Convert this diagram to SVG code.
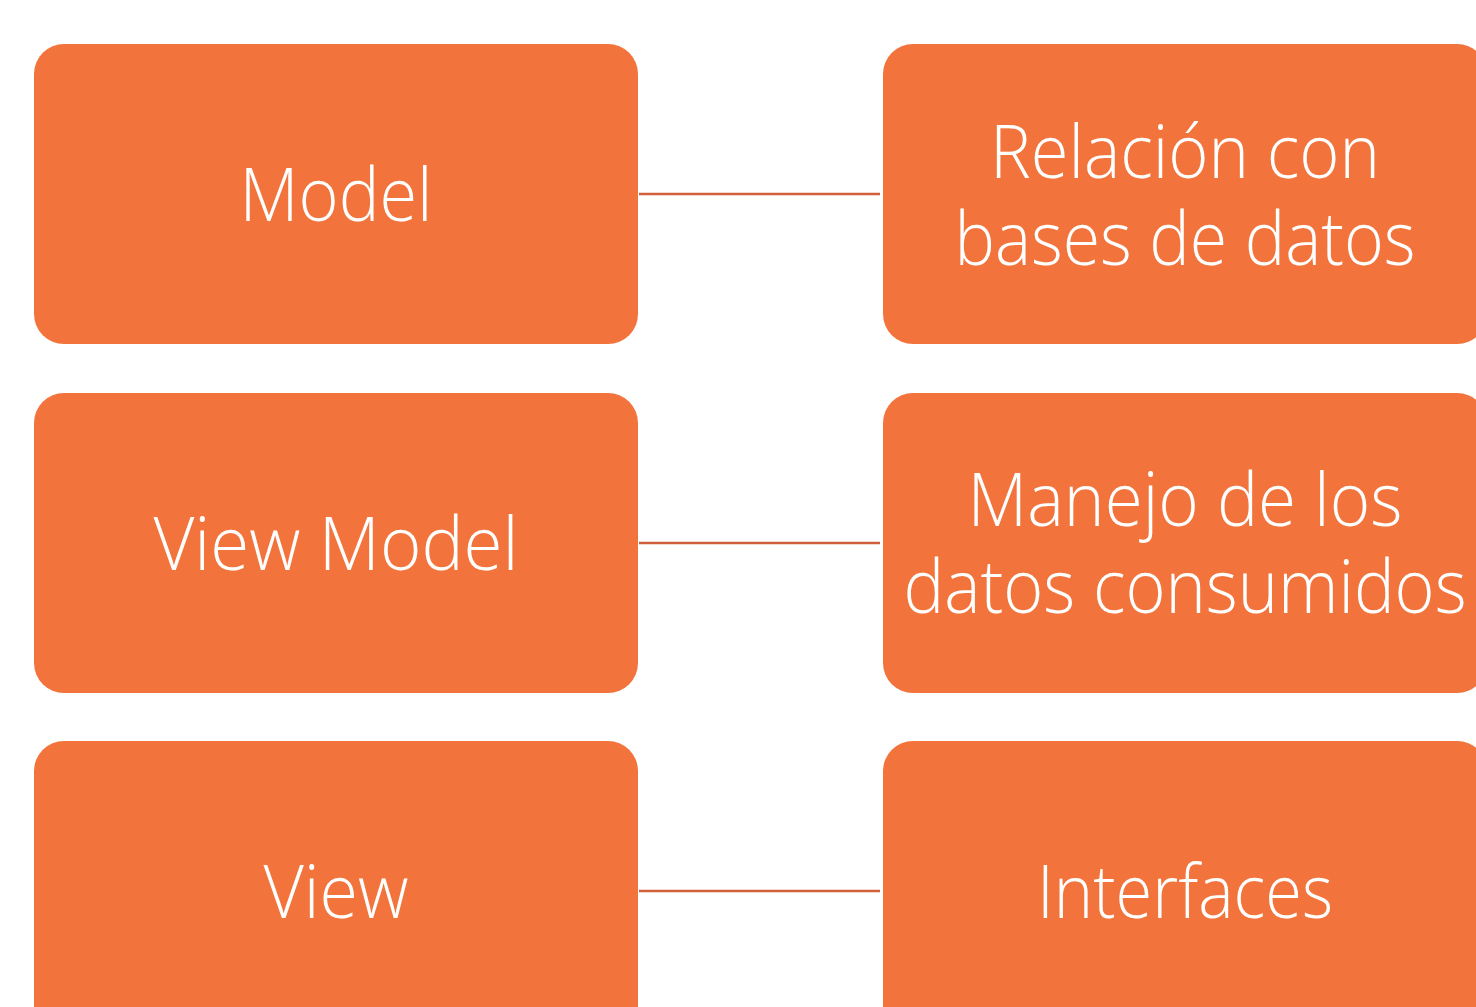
<svg xmlns="http://www.w3.org/2000/svg" width="1476" height="1007" viewBox="0 0 1476 1007">
<style>
.box{fill:#F2743C;}
.t{font-family:"Open Sans","Liberation Sans",sans-serif;font-weight:300;font-size:74px;fill:#FFFFFF;text-anchor:middle;}
.c{stroke:#D0603A;stroke-width:2.5;fill:none;}
</style>
<rect width="1476" height="1007" fill="#FFFFFF"/>
<g id="connectors">
<line class="c" x1="639" y1="194" x2="880" y2="194"/>
<line class="c" x1="639" y1="543" x2="880" y2="543"/>
<line class="c" x1="639" y1="891" x2="880" y2="891"/>
</g>
<g id="model"><rect class="box" x="34" y="44" width="604" height="300" rx="30"/><text class="t" x="336" y="221" textLength="193" lengthAdjust="spacingAndGlyphs">Model</text></g>
<g id="viewmodel"><rect class="box" x="34" y="393" width="604" height="300" rx="30"/><text class="t" x="336" y="570" textLength="365" lengthAdjust="spacingAndGlyphs">View Model</text></g>
<g id="view"><rect class="box" x="34" y="741" width="604" height="300" rx="30"/><text class="t" x="336" y="918" textLength="145" lengthAdjust="spacingAndGlyphs">View</text></g>
<g id="relacion"><rect class="box" x="883" y="44" width="604" height="300" rx="30"/><text class="t" x="1185" y="178" textLength="390" lengthAdjust="spacingAndGlyphs">Relación con</text><text class="t" x="1185" y="265" textLength="461" lengthAdjust="spacingAndGlyphs">bases de datos</text></g>
<g id="manejo"><rect class="box" x="883" y="393" width="604" height="300" rx="30"/><text class="t" x="1185" y="526" textLength="435" lengthAdjust="spacingAndGlyphs">Manejo de los</text><text class="t" x="1185" y="613" textLength="563" lengthAdjust="spacingAndGlyphs">datos consumidos</text></g>
<g id="interfaces"><rect class="box" x="883" y="741" width="604" height="300" rx="30"/><text class="t" x="1185" y="918" textLength="296" lengthAdjust="spacingAndGlyphs">Interfaces</text></g>
</svg>
